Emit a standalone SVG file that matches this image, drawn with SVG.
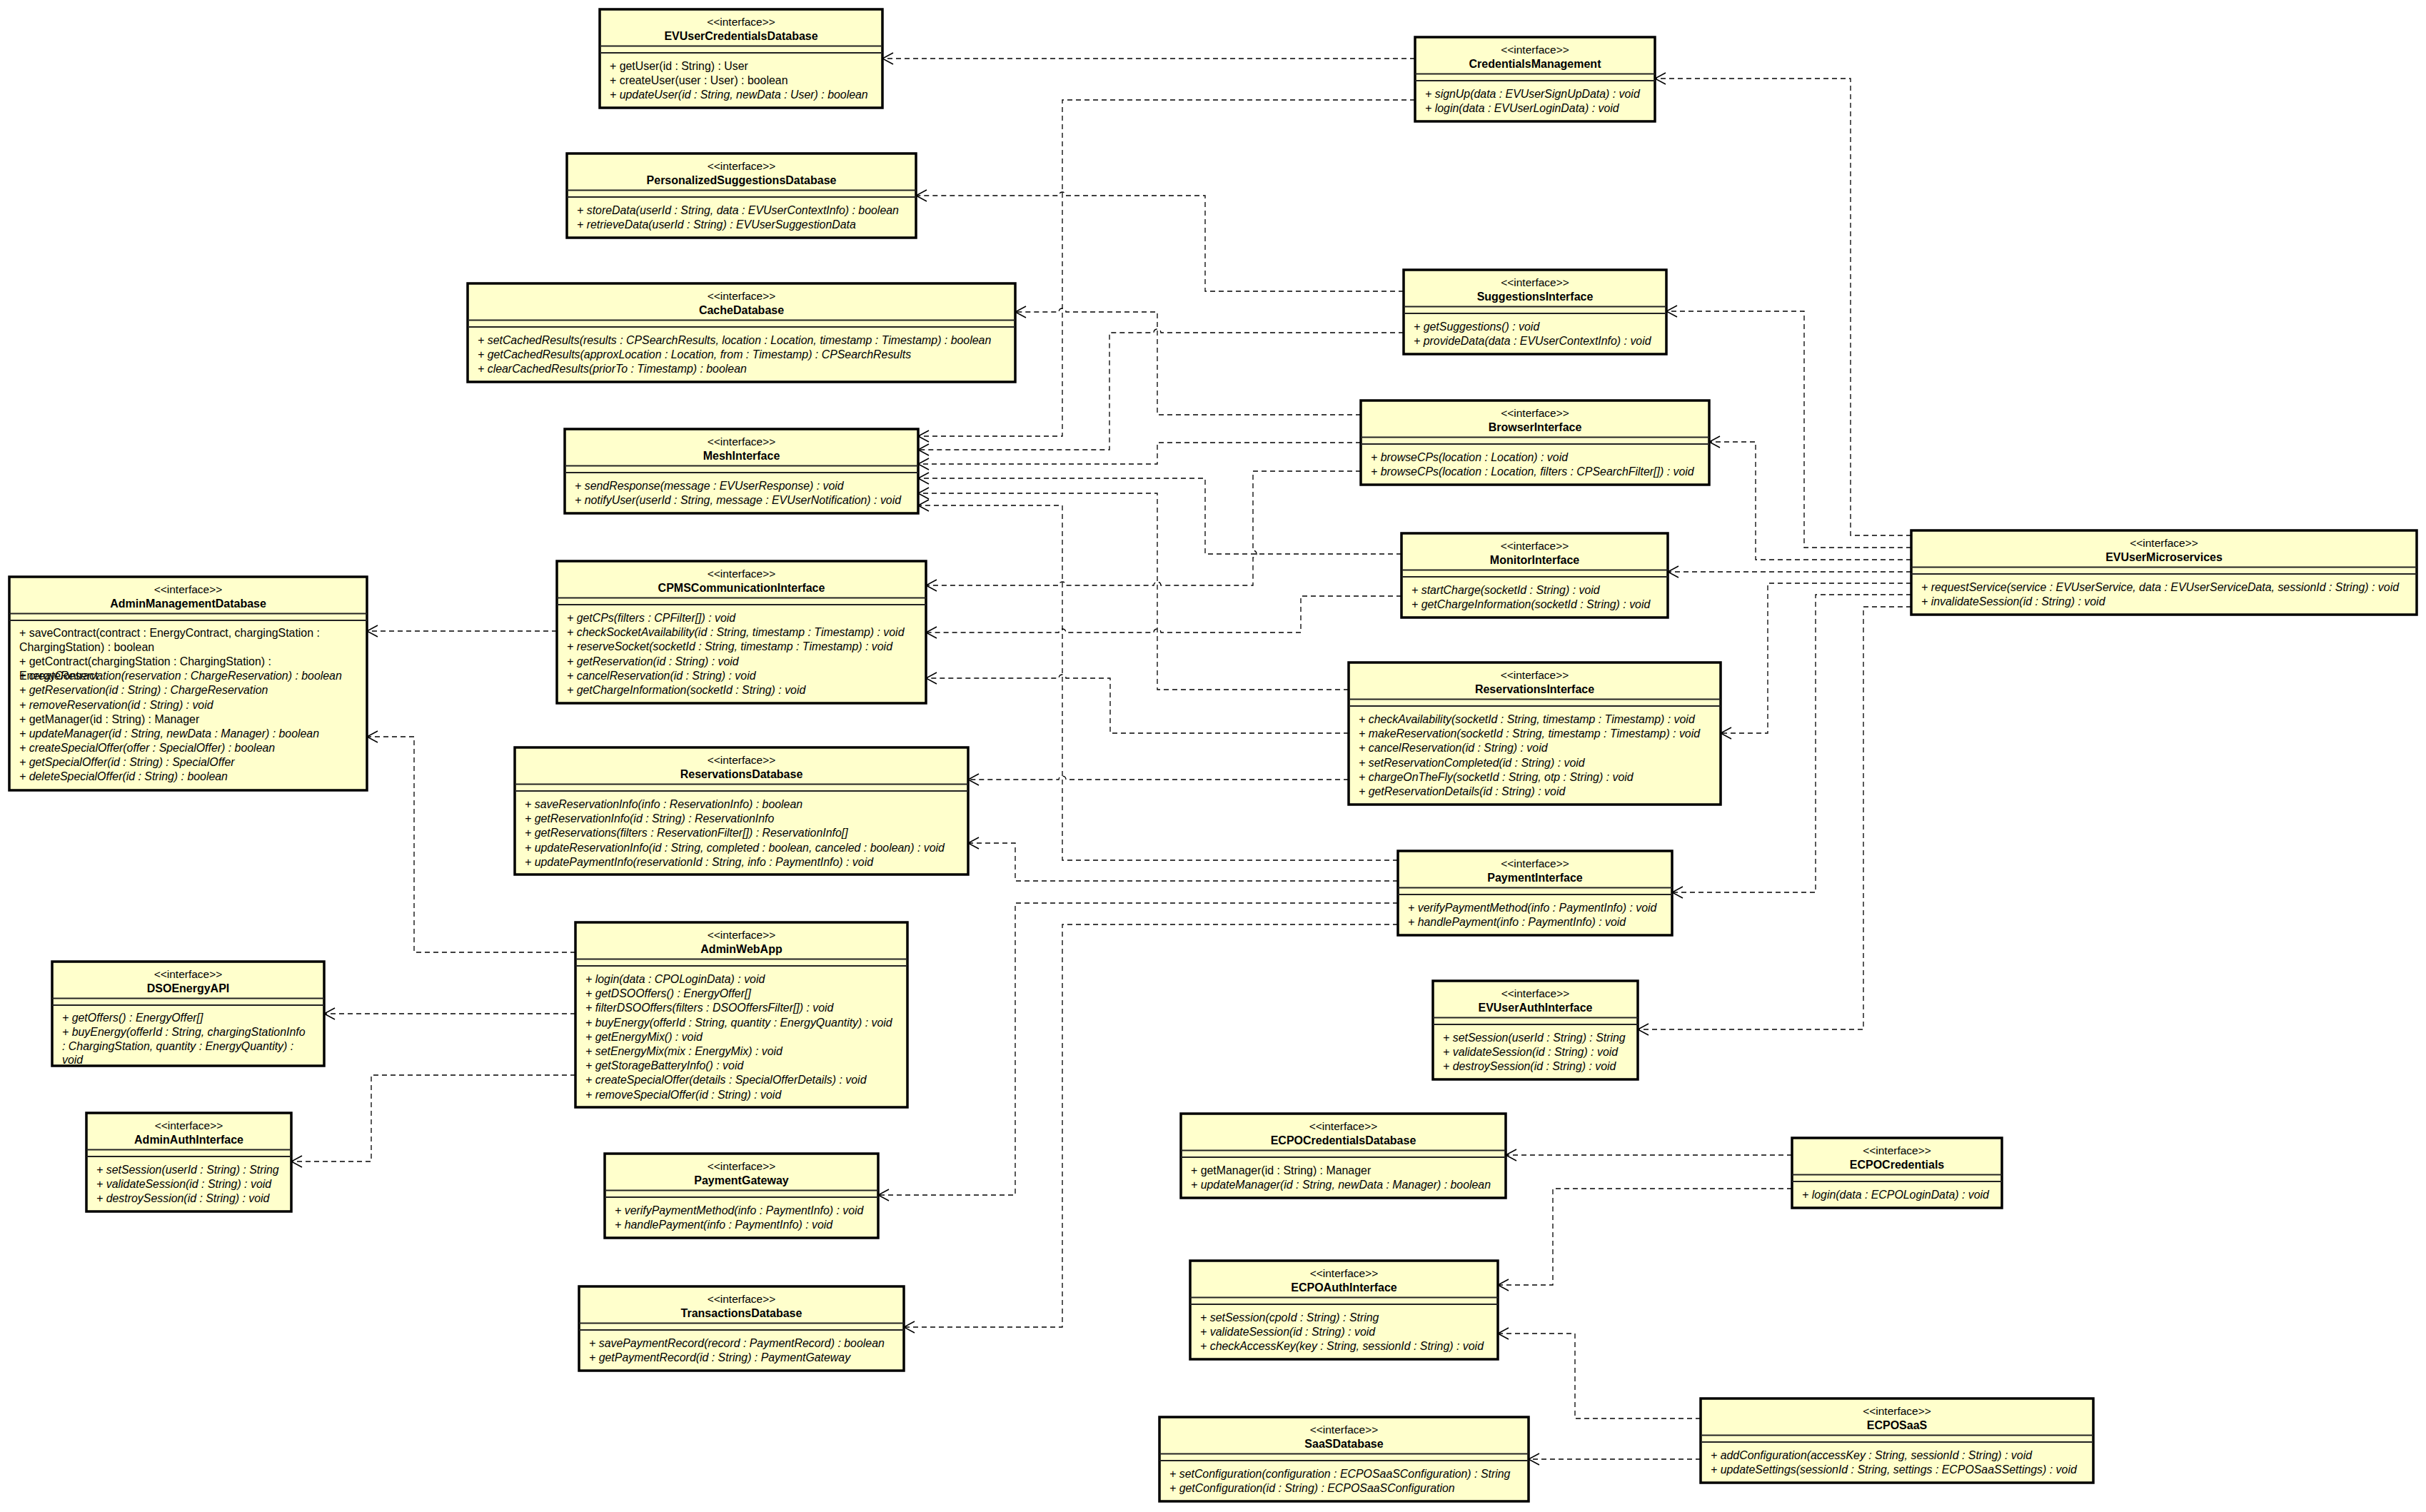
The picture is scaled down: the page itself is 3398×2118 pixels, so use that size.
<svg xmlns="http://www.w3.org/2000/svg" width="3398" height="2118" viewBox="0 0 3398 2118">
<style>
  .bg { fill: #ffffff; }
  .box { fill: #FFFFCC; stroke: #000; stroke-width: 3.5; }
  .sep { stroke: #222; stroke-width: 1.8; }
  .st { font-family: "Liberation Sans", Arial, sans-serif; font-size: 15.5px; text-anchor: middle; fill: #000; }
  .nm { font-family: "Liberation Sans", Arial, sans-serif; font-size: 16px; font-weight: bold; text-anchor: middle; fill: #000; }
  .op { font-family: "Liberation Sans", Arial, sans-serif; font-size: 15.9px; fill: #000; }
  .it { font-style: italic; }
  .dep { fill: none; stroke: #000; stroke-width: 1.3; stroke-dasharray: 7 5; marker-end: url(#open); }
</style>
<defs>
  <marker id="open" markerUnits="userSpaceOnUse" markerWidth="20" markerHeight="20" viewBox="-17 -10 20 20" refX="0" refY="0" orient="auto">
    <path d="M-15,-8 L0,0 L-15,8" fill="none" stroke="#000" stroke-width="1.5" stroke-dasharray="none"/>
  </marker>
</defs>
<rect class="bg" x="0" y="0" width="3398" height="2118"/>

<!-- dependency connectors -->
<g id="connectors">
  <path class="dep" d="M1982,82 H1236"/>
  <path class="dep" d="M2677,750 H2592 V110 H2318"/>
  <path class="dep" d="M2677,767 H2527 V436 H2334"/>
  <path class="dep" d="M2677,784 H2459 V619 H2394"/>
  <path class="dep" d="M2677,801 H2336"/>
  <path class="dep" d="M2677,817 H2476 V1027 H2410"/>
  <path class="dep" d="M2677,833 H2543 V1250 H2342"/>
  <path class="dep" d="M2677,850 H2610 V1442 H2294"/>
  <path class="dep" d="M1982,140 H1488 V611 H1286"/>
  <path class="dep" d="M1966,408 H1688 V274 H1493 A5,5 0 0 0 1483,274 H1283"/>
  <path class="dep" d="M1966,466 H1626 A5,5 0 0 0 1616,466 H1554 V630 H1286"/>
  <path class="dep" d="M1906,581 H1621 V437 H1493 A5,5 0 0 0 1483,437 H1422"/>
  <path class="dep" d="M1906,620 H1621 V650 H1286"/>
  <path class="dep" d="M1906,660 H1755 V771 A5,5 0 0 1 1755,781 V820 H1626 A5,5 0 0 0 1616,820 H1493 A5,5 0 0 0 1483,820 H1297"/>
  <path class="dep" d="M1963,776 H1688 V670 H1286"/>
  <path class="dep" d="M1963,835 H1822 V886 H1626 A5,5 0 0 0 1616,886 H1493 A5,5 0 0 0 1483,886 H1297"/>
  <path class="dep" d="M1889,966 H1621 V691 H1286"/>
  <path class="dep" d="M1889,1027 H1555 V950 H1493 A5,5 0 0 0 1483,950 H1297"/>
  <path class="dep" d="M1889,1092 H1493 A5,5 0 0 0 1483,1092 H1356"/>
  <path class="dep" d="M1958,1205 H1488 V708 H1286"/>
  <path class="dep" d="M1958,1234 H1422 V1181 H1356"/>
  <path class="dep" d="M1958,1265 H1422 V1674 H1230"/>
  <path class="dep" d="M1958,1295 H1488 V1859 H1266"/>
  <path class="dep" d="M780,884 H514"/>
  <path class="dep" d="M806,1334 H580 V1032 H514"/>
  <path class="dep" d="M806,1420 H454"/>
  <path class="dep" d="M806,1506 H520 V1627 H408"/>
  <path class="dep" d="M2510,1618 H2109"/>
  <path class="dep" d="M2510,1665 H2175 V1800 H2098"/>
  <path class="dep" d="M2382,1987 H2206 V1868 H2098"/>
  <path class="dep" d="M2382,2044 H2141"/>
</g>

<g id="EVUserCredentialsDatabase">
  <rect class="box" x="840" y="13" width="396" height="138"/>
  <line class="sep" x1="840" y1="64.5" x2="1236" y2="64.5"/>
  <line class="sep" x1="840" y1="74" x2="1236" y2="74"/>
  <text class="st" x="1038" y="35.5">&lt;&lt;interface&gt;&gt;</text>
  <text class="nm" x="1038" y="56">EVUserCredentialsDatabase</text>
  <text class="op" x="854" y="98">+ getUser(id : String) : User</text>
  <text class="op" x="854" y="118.2">+ createUser(user : User) : boolean</text>
  <text class="op it" x="854" y="138.4">+ updateUser(id : String, newData : User) : boolean</text>
</g>

<g id="CredentialsManagement">
  <rect class="box" x="1982" y="52" width="336" height="118"/>
  <line class="sep" x1="1982" y1="103.5" x2="2318" y2="103.5"/>
  <line class="sep" x1="1982" y1="113" x2="2318" y2="113"/>
  <text class="st" x="2150" y="74.5">&lt;&lt;interface&gt;&gt;</text>
  <text class="nm" x="2150" y="95">CredentialsManagement</text>
  <text class="op it" x="1996" y="137">+ signUp(data : EVUserSignUpData) : void</text>
  <text class="op it" x="1996" y="157.2">+ login(data : EVUserLoginData) : void</text>
</g>

<g id="PersonalizedSuggestionsDatabase">
  <rect class="box" x="794" y="215" width="489" height="118"/>
  <line class="sep" x1="794" y1="266.5" x2="1283" y2="266.5"/>
  <line class="sep" x1="794" y1="276" x2="1283" y2="276"/>
  <text class="st" x="1038.5" y="237.5">&lt;&lt;interface&gt;&gt;</text>
  <text class="nm" x="1038.5" y="258">PersonalizedSuggestionsDatabase</text>
  <text class="op it" x="808" y="300">+ storeData(userId : String, data : EVUserContextInfo) : boolean</text>
  <text class="op it" x="808" y="320.2">+ retrieveData(userId : String) : EVUserSuggestionData</text>
</g>

<g id="SuggestionsInterface">
  <rect class="box" x="1966" y="378" width="368" height="118"/>
  <line class="sep" x1="1966" y1="429.5" x2="2334" y2="429.5"/>
  <line class="sep" x1="1966" y1="439" x2="2334" y2="439"/>
  <text class="st" x="2150" y="400.5">&lt;&lt;interface&gt;&gt;</text>
  <text class="nm" x="2150" y="421">SuggestionsInterface</text>
  <text class="op it" x="1980" y="463">+ getSuggestions() : void</text>
  <text class="op it" x="1980" y="483.2">+ provideData(data : EVUserContextInfo) : void</text>
</g>

<g id="CacheDatabase">
  <rect class="box" x="655" y="397" width="767" height="138"/>
  <line class="sep" x1="655" y1="448.5" x2="1422" y2="448.5"/>
  <line class="sep" x1="655" y1="458" x2="1422" y2="458"/>
  <text class="st" x="1038.5" y="419.5">&lt;&lt;interface&gt;&gt;</text>
  <text class="nm" x="1038.5" y="440">CacheDatabase</text>
  <text class="op it" x="669" y="482">+ setCachedResults(results : CPSearchResults, location : Location, timestamp : Timestamp) : boolean</text>
  <text class="op it" x="669" y="502.2">+ getCachedResults(approxLocation : Location, from : Timestamp) : CPSearchResults</text>
  <text class="op it" x="669" y="522.4">+ clearCachedResults(priorTo : Timestamp) : boolean</text>
</g>

<g id="BrowserInterface">
  <rect class="box" x="1906" y="561" width="488" height="118"/>
  <line class="sep" x1="1906" y1="612.5" x2="2394" y2="612.5"/>
  <line class="sep" x1="1906" y1="622" x2="2394" y2="622"/>
  <text class="st" x="2150" y="583.5">&lt;&lt;interface&gt;&gt;</text>
  <text class="nm" x="2150" y="604">BrowserInterface</text>
  <text class="op it" x="1920" y="646">+ browseCPs(location : Location) : void</text>
  <text class="op it" x="1920" y="666.2">+ browseCPs(location : Location, filters : CPSearchFilter[]) : void</text>
</g>

<g id="MeshInterface">
  <rect class="box" x="791" y="601" width="495" height="118"/>
  <line class="sep" x1="791" y1="652.5" x2="1286" y2="652.5"/>
  <line class="sep" x1="791" y1="662" x2="1286" y2="662"/>
  <text class="st" x="1038.5" y="623.5">&lt;&lt;interface&gt;&gt;</text>
  <text class="nm" x="1038.5" y="644">MeshInterface</text>
  <text class="op it" x="805" y="686">+ sendResponse(message : EVUserResponse) : void</text>
  <text class="op it" x="805" y="706.2">+ notifyUser(userId : String, message : EVUserNotification) : void</text>
</g>

<g id="MonitorInterface">
  <rect class="box" x="1963" y="747" width="373" height="118"/>
  <line class="sep" x1="1963" y1="798.5" x2="2336" y2="798.5"/>
  <line class="sep" x1="1963" y1="808" x2="2336" y2="808"/>
  <text class="st" x="2149.5" y="769.5">&lt;&lt;interface&gt;&gt;</text>
  <text class="nm" x="2149.5" y="790">MonitorInterface</text>
  <text class="op it" x="1977" y="832">+ startCharge(socketId : String) : void</text>
  <text class="op it" x="1977" y="852.2">+ getChargeInformation(socketId : String) : void</text>
</g>

<g id="EVUserMicroservices">
  <rect class="box" x="2677" y="743" width="708" height="118"/>
  <line class="sep" x1="2677" y1="794.5" x2="3385" y2="794.5"/>
  <line class="sep" x1="2677" y1="804" x2="3385" y2="804"/>
  <text class="st" x="3031" y="765.5">&lt;&lt;interface&gt;&gt;</text>
  <text class="nm" x="3031" y="786">EVUserMicroservices</text>
  <text class="op it" x="2691" y="828">+ requestService(service : EVUserService, data : EVUserServiceData, sessionId : String) : void</text>
  <text class="op it" x="2691" y="848.2">+ invalidateSession(id : String) : void</text>
</g>

<g id="CPMSCommunicationInterface">
  <rect class="box" x="780" y="786" width="517" height="199"/>
  <line class="sep" x1="780" y1="837.5" x2="1297" y2="837.5"/>
  <line class="sep" x1="780" y1="847" x2="1297" y2="847"/>
  <text class="st" x="1038.5" y="808.5">&lt;&lt;interface&gt;&gt;</text>
  <text class="nm" x="1038.5" y="829">CPMSCommunicationInterface</text>
  <text class="op it" x="794" y="871">+ getCPs(filters : CPFilter[]) : void</text>
  <text class="op it" x="794" y="891.2">+ checkSocketAvailability(id : String, timestamp : Timestamp) : void</text>
  <text class="op it" x="794" y="911.4">+ reserveSocket(socketId : String, timestamp : Timestamp) : void</text>
  <text class="op it" x="794" y="931.6">+ getReservation(id : String) : void</text>
  <text class="op it" x="794" y="951.8">+ cancelReservation(id : String) : void</text>
  <text class="op it" x="794" y="972">+ getChargeInformation(socketId : String) : void</text>
</g>

<g id="AdminManagementDatabase">
  <rect class="box" x="13" y="808" width="501" height="299"/>
  <line class="sep" x1="13" y1="859.5" x2="514" y2="859.5"/>
  <line class="sep" x1="13" y1="869" x2="514" y2="869"/>
  <text class="st" x="263.5" y="830.5">&lt;&lt;interface&gt;&gt;</text>
  <text class="nm" x="263.5" y="851">AdminManagementDatabase</text>
  <text class="op" x="27" y="892">+ saveContract(contract : EnergyContract, chargingStation :</text>
  <text class="op" x="27" y="912">ChargingStation) : boolean</text>
  <text class="op" x="27" y="932">+ getContract(chargingStation : ChargingStation) :</text>
  <text class="op" x="27" y="952">EnergyContract</text>
  <text class="op it" x="27" y="952">+ createReservation(reservation : ChargeReservation) : boolean</text>
  <text class="op it" x="27" y="972">+ getReservation(id : String) : ChargeReservation</text>
  <text class="op it" x="27" y="992.5">+ removeReservation(id : String) : void</text>
  <text class="op" x="27" y="1012.5">+ getManager(id : String) : Manager</text>
  <text class="op it" x="27" y="1032.5">+ updateManager(id : String, newData : Manager) : boolean</text>
  <text class="op it" x="27" y="1052.5">+ createSpecialOffer(offer : SpecialOffer) : boolean</text>
  <text class="op it" x="27" y="1072.5">+ getSpecialOffer(id : String) : SpecialOffer</text>
  <text class="op it" x="27" y="1092.5">+ deleteSpecialOffer(id : String) : boolean</text>
</g>

<g id="ReservationsInterface">
  <rect class="box" x="1889" y="928" width="521" height="199"/>
  <line class="sep" x1="1889" y1="979.5" x2="2410" y2="979.5"/>
  <line class="sep" x1="1889" y1="989" x2="2410" y2="989"/>
  <text class="st" x="2149.5" y="950.5">&lt;&lt;interface&gt;&gt;</text>
  <text class="nm" x="2149.5" y="971">ReservationsInterface</text>
  <text class="op it" x="1903" y="1013">+ checkAvailability(socketId : String, timestamp : Timestamp) : void</text>
  <text class="op it" x="1903" y="1033.2">+ makeReservation(socketId : String, timestamp : Timestamp) : void</text>
  <text class="op it" x="1903" y="1053.4">+ cancelReservation(id : String) : void</text>
  <text class="op it" x="1903" y="1073.6">+ setReservationCompleted(id : String) : void</text>
  <text class="op it" x="1903" y="1093.8">+ chargeOnTheFly(socketId : String, otp : String) : void</text>
  <text class="op it" x="1903" y="1114">+ getReservationDetails(id : String) : void</text>
</g>

<g id="ReservationsDatabase">
  <rect class="box" x="721" y="1047" width="635" height="178"/>
  <line class="sep" x1="721" y1="1098.5" x2="1356" y2="1098.5"/>
  <line class="sep" x1="721" y1="1108" x2="1356" y2="1108"/>
  <text class="st" x="1038.5" y="1069.5">&lt;&lt;interface&gt;&gt;</text>
  <text class="nm" x="1038.5" y="1090">ReservationsDatabase</text>
  <text class="op it" x="735" y="1132">+ saveReservationInfo(info : ReservationInfo) : boolean</text>
  <text class="op it" x="735" y="1152.2">+ getReservationInfo(id : String) : ReservationInfo</text>
  <text class="op it" x="735" y="1172.4">+ getReservations(filters : ReservationFilter[]) : ReservationInfo[]</text>
  <text class="op it" x="735" y="1192.6">+ updateReservationInfo(id : String, completed : boolean, canceled : boolean) : void</text>
  <text class="op it" x="735" y="1212.8">+ updatePaymentInfo(reservationId : String, info : PaymentInfo) : void</text>
</g>

<g id="PaymentInterface">
  <rect class="box" x="1958" y="1192" width="384" height="118"/>
  <line class="sep" x1="1958" y1="1243.5" x2="2342" y2="1243.5"/>
  <line class="sep" x1="1958" y1="1253" x2="2342" y2="1253"/>
  <text class="st" x="2150" y="1214.5">&lt;&lt;interface&gt;&gt;</text>
  <text class="nm" x="2150" y="1235">PaymentInterface</text>
  <text class="op it" x="1972" y="1277">+ verifyPaymentMethod(info : PaymentInfo) : void</text>
  <text class="op it" x="1972" y="1297.2">+ handlePayment(info : PaymentInfo) : void</text>
</g>

<g id="AdminWebApp">
  <rect class="box" x="806" y="1292" width="465" height="259"/>
  <line class="sep" x1="806" y1="1343.5" x2="1271" y2="1343.5"/>
  <line class="sep" x1="806" y1="1353" x2="1271" y2="1353"/>
  <text class="st" x="1038.5" y="1314.5">&lt;&lt;interface&gt;&gt;</text>
  <text class="nm" x="1038.5" y="1335">AdminWebApp</text>
  <text class="op it" x="820" y="1377">+ login(data : CPOLoginData) : void</text>
  <text class="op it" x="820" y="1397.2">+ getDSOOffers() : EnergyOffer[]</text>
  <text class="op it" x="820" y="1417.4">+ filterDSOOffers(filters : DSOOffersFilter[]) : void</text>
  <text class="op it" x="820" y="1437.6">+ buyEnergy(offerId : String, quantity : EnergyQuantity) : void</text>
  <text class="op it" x="820" y="1457.8">+ getEnergyMix() : void</text>
  <text class="op it" x="820" y="1478">+ setEnergyMix(mix : EnergyMix) : void</text>
  <text class="op it" x="820" y="1498.2">+ getStorageBatteryInfo() : void</text>
  <text class="op it" x="820" y="1518.4">+ createSpecialOffer(details : SpecialOfferDetails) : void</text>
  <text class="op it" x="820" y="1538.6">+ removeSpecialOffer(id : String) : void</text>
</g>

<g id="DSOEnergyAPI">
  <rect class="box" x="73" y="1347" width="381" height="146"/>
  <line class="sep" x1="73" y1="1398.5" x2="454" y2="1398.5"/>
  <line class="sep" x1="73" y1="1408" x2="454" y2="1408"/>
  <text class="st" x="263.5" y="1369.5">&lt;&lt;interface&gt;&gt;</text>
  <text class="nm" x="263.5" y="1390">DSOEnergyAPI</text>
  <text class="op it" x="87" y="1431">+ getOffers() : EnergyOffer[]</text>
  <text class="op it" x="87" y="1451">+ buyEnergy(offerId : String, chargingStationInfo</text>
  <text class="op it" x="87" y="1471">: ChargingStation, quantity : EnergyQuantity) :</text>
  <text class="op it" x="87" y="1490">void</text>
</g>

<g id="EVUserAuthInterface">
  <rect class="box" x="2007" y="1374" width="287" height="138"/>
  <line class="sep" x1="2007" y1="1425.5" x2="2294" y2="1425.5"/>
  <line class="sep" x1="2007" y1="1435" x2="2294" y2="1435"/>
  <text class="st" x="2150.5" y="1396.5">&lt;&lt;interface&gt;&gt;</text>
  <text class="nm" x="2150.5" y="1417">EVUserAuthInterface</text>
  <text class="op it" x="2021" y="1459">+ setSession(userId : String) : String</text>
  <text class="op it" x="2021" y="1479.2">+ validateSession(id : String) : void</text>
  <text class="op it" x="2021" y="1499.4">+ destroySession(id : String) : void</text>
</g>

<g id="AdminAuthInterface">
  <rect class="box" x="121" y="1559" width="287" height="138"/>
  <line class="sep" x1="121" y1="1610.5" x2="408" y2="1610.5"/>
  <line class="sep" x1="121" y1="1620" x2="408" y2="1620"/>
  <text class="st" x="264.5" y="1581.5">&lt;&lt;interface&gt;&gt;</text>
  <text class="nm" x="264.5" y="1602">AdminAuthInterface</text>
  <text class="op it" x="135" y="1644">+ setSession(userId : String) : String</text>
  <text class="op it" x="135" y="1664.2">+ validateSession(id : String) : void</text>
  <text class="op it" x="135" y="1684.4">+ destroySession(id : String) : void</text>
</g>

<g id="PaymentGateway">
  <rect class="box" x="847" y="1616" width="383" height="118"/>
  <line class="sep" x1="847" y1="1667.5" x2="1230" y2="1667.5"/>
  <line class="sep" x1="847" y1="1677" x2="1230" y2="1677"/>
  <text class="st" x="1038.5" y="1638.5">&lt;&lt;interface&gt;&gt;</text>
  <text class="nm" x="1038.5" y="1659">PaymentGateway</text>
  <text class="op it" x="861" y="1701">+ verifyPaymentMethod(info : PaymentInfo) : void</text>
  <text class="op it" x="861" y="1721.2">+ handlePayment(info : PaymentInfo) : void</text>
</g>

<g id="ECPOCredentialsDatabase">
  <rect class="box" x="1654" y="1560" width="455" height="118"/>
  <line class="sep" x1="1654" y1="1611.5" x2="2109" y2="1611.5"/>
  <line class="sep" x1="1654" y1="1621" x2="2109" y2="1621"/>
  <text class="st" x="1881.5" y="1582.5">&lt;&lt;interface&gt;&gt;</text>
  <text class="nm" x="1881.5" y="1603">ECPOCredentialsDatabase</text>
  <text class="op" x="1668" y="1645">+ getManager(id : String) : Manager</text>
  <text class="op it" x="1668" y="1665.2">+ updateManager(id : String, newData : Manager) : boolean</text>
</g>

<g id="ECPOCredentials">
  <rect class="box" x="2510" y="1594" width="294" height="98"/>
  <line class="sep" x1="2510" y1="1645.5" x2="2804" y2="1645.5"/>
  <line class="sep" x1="2510" y1="1655" x2="2804" y2="1655"/>
  <text class="st" x="2657" y="1616.5">&lt;&lt;interface&gt;&gt;</text>
  <text class="nm" x="2657" y="1637">ECPOCredentials</text>
  <text class="op it" x="2524" y="1679">+ login(data : ECPOLoginData) : void</text>
</g>

<g id="ECPOAuthInterface">
  <rect class="box" x="1667" y="1766" width="431" height="138"/>
  <line class="sep" x1="1667" y1="1817.5" x2="2098" y2="1817.5"/>
  <line class="sep" x1="1667" y1="1827" x2="2098" y2="1827"/>
  <text class="st" x="1882.5" y="1788.5">&lt;&lt;interface&gt;&gt;</text>
  <text class="nm" x="1882.5" y="1809">ECPOAuthInterface</text>
  <text class="op it" x="1681" y="1851">+ setSession(cpoId : String) : String</text>
  <text class="op it" x="1681" y="1871.2">+ validateSession(id : String) : void</text>
  <text class="op it" x="1681" y="1891.4">+ checkAccessKey(key : String, sessionId : String) : void</text>
</g>

<g id="TransactionsDatabase">
  <rect class="box" x="811" y="1802" width="455" height="118"/>
  <line class="sep" x1="811" y1="1853.5" x2="1266" y2="1853.5"/>
  <line class="sep" x1="811" y1="1863" x2="1266" y2="1863"/>
  <text class="st" x="1038.5" y="1824.5">&lt;&lt;interface&gt;&gt;</text>
  <text class="nm" x="1038.5" y="1845">TransactionsDatabase</text>
  <text class="op it" x="825" y="1887">+ savePaymentRecord(record : PaymentRecord) : boolean</text>
  <text class="op it" x="825" y="1907.2">+ getPaymentRecord(id : String) : PaymentGateway</text>
</g>

<g id="ECPOSaaS">
  <rect class="box" x="2382" y="1959" width="550" height="118"/>
  <line class="sep" x1="2382" y1="2010.5" x2="2932" y2="2010.5"/>
  <line class="sep" x1="2382" y1="2020" x2="2932" y2="2020"/>
  <text class="st" x="2657" y="1981.5">&lt;&lt;interface&gt;&gt;</text>
  <text class="nm" x="2657" y="2002">ECPOSaaS</text>
  <text class="op it" x="2396" y="2044">+ addConfiguration(accessKey : String, sessionId : String) : void</text>
  <text class="op it" x="2396" y="2064.2">+ updateSettings(sessionId : String, settings : ECPOSaaSSettings) : void</text>
</g>

<g id="SaaSDatabase">
  <rect class="box" x="1624" y="1985" width="517" height="118"/>
  <line class="sep" x1="1624" y1="2036.5" x2="2141" y2="2036.5"/>
  <line class="sep" x1="1624" y1="2046" x2="2141" y2="2046"/>
  <text class="st" x="1882.5" y="2007.5">&lt;&lt;interface&gt;&gt;</text>
  <text class="nm" x="1882.5" y="2028">SaaSDatabase</text>
  <text class="op it" x="1638" y="2070">+ setConfiguration(configuration : ECPOSaaSConfiguration) : String</text>
  <text class="op it" x="1638" y="2090.2">+ getConfiguration(id : String) : ECPOSaaSConfiguration</text>
</g>
</svg>
